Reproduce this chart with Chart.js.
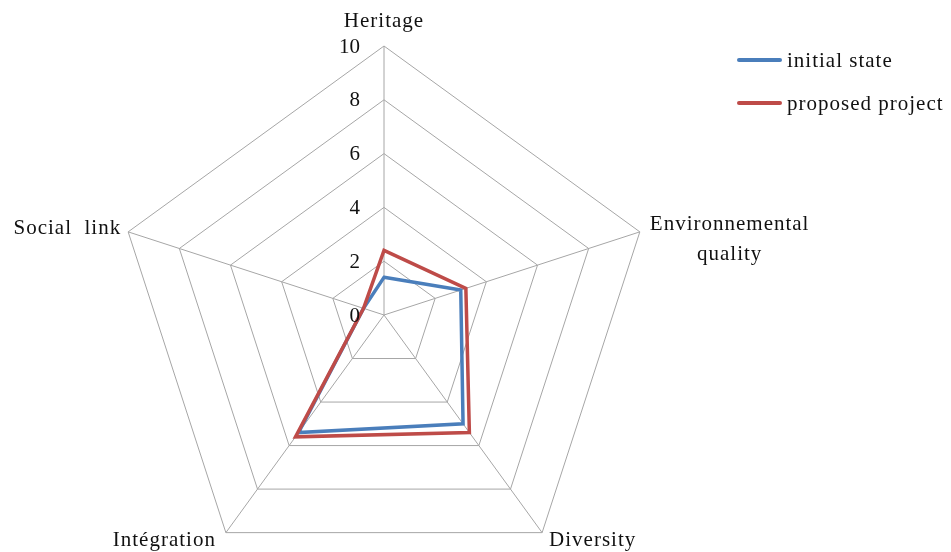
<!DOCTYPE html>
<html>
<head>
<meta charset="utf-8">
<script src="https://cdn.jsdelivr.net/npm/chart.js@4"></script>
<style>
  html, body { margin:0; padding:0; background:#fff; overflow:hidden; width:951px; height:552px; }
  #wrap { position:relative; width:951px; height:620px; }
  #legend { position:absolute; left:737px; top:46px; font-family:'Liberation Serif', serif; font-size:21px; letter-spacing:1px; color:#111; }
  #legend .item { display:flex; align-items:center; height:28px; margin-bottom:15px; white-space:nowrap; }
  #legend .swatch { width:45px; height:4px; margin-right:5px; border-radius:2px; }
</style>
</head>
<body>
<div id="wrap">
  <canvas id="radar" width="951" height="620"></canvas>
  <div id="legend"></div>
</div>
<script>
// ===== data =====
const categories = ['Heritage', ['Environnemental', 'quality'], 'Diversity', 'Intégration', 'Social  link'];
const initialState = [1.4, 3.0, 5.0, 5.4, 0.8];
const proposedProject = [2.4, 3.2, 5.4, 5.6, 0.8];
const tickValues = [0, 2, 4, 6, 8, 10];
const seriesNames = ['initial state', 'proposed project'];
const seriesColors = ['#4A7EBB', '#BE4B48'];

const FONT = "21px 'Liberation Serif', serif";

// tick labels + point labels, placed through the radial scale
const labelPlugin = {
  id: 'labels',
  afterDraw(chart){
    const r = chart.scales.r;
    const ctx = chart.ctx;
    ctx.save();
    ctx.font = FONT;
    ctx.fillStyle = '#111';

    // ticks, left of the vertical axis
    ctx.textAlign = 'right';
    ctx.textBaseline = 'middle';
    tickValues.forEach(v => {
      const d = r.getDistanceFromCenterForValue(v);
      ctx.fillText(String(v), r.xCenter - 24, r.yCenter - d + 1);
    });

    // category labels (slightly spaced, the source font is wide)
    ctx.letterSpacing = '1px';
    categories.forEach((lab, i) => {
      const p = r.getPointPosition(i, r.drawingArea);
      const lines = Array.isArray(lab) ? lab : [lab];
      const lh = 30;
      const maxW = Math.max(...lines.map(l => ctx.measureText(l).width));
      const dx = p.x - r.xCenter, dy = p.y - r.yCenter;
      let cx, cy;
      if(Math.abs(dx) < 1){
        cx = p.x; cy = p.y - 25;
      } else if(dy > 0){
        cx = dx > 0 ? p.x + 7 + maxW/2 : p.x - 10 - maxW/2;
        cy = p.y + 8;
      } else {
        cx = dx > 0 ? p.x + 10 + maxW/2 : p.x - 7 - maxW/2;
        cy = p.y + (lines.length > 1 ? 8 : -3);
      }
      ctx.textAlign = 'center';
      const top = cy - (lines.length - 1) * lh / 2;
      lines.forEach((l, k) => ctx.fillText(l, cx, top + k * lh));
    });
    ctx.restore();
  }
};

new Chart(document.getElementById('radar'), {
  type: 'radar',
  data: {
    labels: categories,
    datasets: [
      { label: seriesNames[0], data: initialState, borderColor: seriesColors[0], borderWidth: 3.5, pointRadius: 0, fill: false, order: 2 },
      { label: seriesNames[1], data: proposedProject, borderColor: seriesColors[1], borderWidth: 3.5, pointRadius: 0, fill: false, order: 1 }
    ]
  },
  options: {
    responsive: false,
    animation: false,
    layout: { padding: { left: 115, right: 298, top: 46, bottom: 36 } },
    plugins: { legend: { display: false }, tooltip: { enabled: false } },
    elements: { line: { tension: 0, borderJoinStyle: 'miter' } },
    scales: {
      r: {
        min: 0, max: 10,
        ticks: { stepSize: 2, display: false },
        pointLabels: { display: false },
        grid: { color: '#a6a6a6', lineWidth: 1 },
        angleLines: { color: '#a6a6a6', lineWidth: 1 }
      }
    }
  },
  plugins: [labelPlugin]
});

// legend
document.getElementById('legend').innerHTML = seriesNames.map((n, i) =>
  `<div class="item"><span class="swatch" style="background:${seriesColors[i]}"></span>${n}</div>`).join('');
</script>
</body>
</html>
